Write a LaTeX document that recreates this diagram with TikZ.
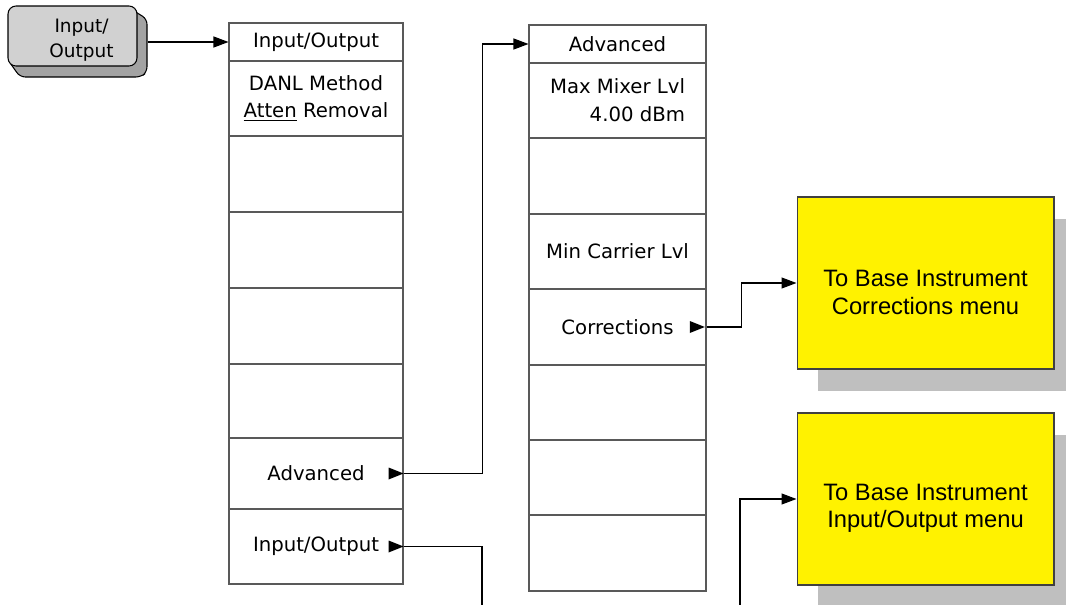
\documentclass[tikz,border=0pt]{standalone}
\usepackage{fontspec}
\newfontfamily\keyfont{DejaVu Sans}
\newfontfamily\boxfont{Liberation Sans}
\usetikzlibrary{arrows.meta}
\usetikzlibrary{shadows}

\begin{document}
\begin{tikzpicture}[x=0.02cm,y=-0.02cm,
  keybox/.style={draw=black!65, line width=0.6pt, inner sep=0pt, align=center,
    font=\keyfont\fontsize{11.2}{15.8}\selectfont},
  colone/.style={keybox, minimum width=3.48cm},
  coltwo/.style={keybox, minimum width=3.54cm},
  hardkey/.style={draw, line width=0.6pt, fill=black!18, rounded corners=0.16cm,
    minimum width=2.58cm, minimum height=1.2cm},
  tobox/.style={draw=black!75, line width=0.6pt, fill=yellow,
    minimum width=5.14cm, minimum height=3.44cm,
    drop shadow={shadow xshift=0.42cm, shadow yshift=-0.44cm, fill=black!25, opacity=1}},
  boxtext/.style={yshift=-0.19cm, align=center, font=\boxfont\fontsize{13.5}{15.5}\selectfont},
  link/.style={line width=0.6pt, -{Triangle[length=0.3cm,width=0.22cm]}}]
\useasboundingbox (0,0) rectangle (1066,605);

% front panel key
\filldraw [fill=black!36, line width=0.6pt, rounded corners=3pt]
  (126,6) -- (147,19) -- (147,72) -- (141,77) -- (20,77) -- (8,60) -- cycle;
\node [hardkey, label={[xshift=0.18cm, yshift=-0.08cm, align=center,
  font=\keyfont\fontsize{10.5}{14.2}\selectfont]center:Input/\\Output}] (hk) at (72.5,36) {};

% Input/Output menu
\node [colone, minimum height=0.76cm] (iot) at (316,42) {Input/Output};
\node [colone, minimum height=1.5cm] (danl) at (316,98.5) {DANL Method\\\underline{Atten} Removal};
\node [colone, minimum height=1.52cm] (ioa) at (316,174) {};
\node [colone, minimum height=1.52cm] (iob) at (316,250) {};
\node [colone, minimum height=1.52cm] (ioc) at (316,326) {};
\node [colone, minimum height=1.48cm] (iod) at (316,401) {};
\node [colone, minimum height=1.42cm] (adv) at (316,473.5) {Advanced};
\node [colone, minimum height=1.5cm] (io) at (316,546.5) {Input/Output};

% Advanced menu
\node [coltwo, minimum height=0.76cm] (advt) at (617.5,44) {Advanced};
\node [coltwo, minimum height=1.5cm, align=right] (maxmix) at (617.5,100.5) {Max Mixer Lvl\\4.00 dBm};
\node [coltwo, minimum height=1.52cm] (adva) at (617.5,176) {};
\node [coltwo, minimum height=1.5cm] (minc) at (617.5,251.5) {Min Carrier Lvl};
\node [coltwo, minimum height=1.52cm] (corr) at (617.5,327) {Corrections};
\node [coltwo, minimum height=1.5cm] (advb) at (617.5,402.5) {};
\node [coltwo, minimum height=1.5cm] (advc) at (617.5,477.5) {};
\node [coltwo, minimum height=1.52cm] (advd) at (617.5,553) {};

% base instrument menus
\node [tobox, label={[boxtext]center:To Base Instrument\\Corrections menu}] (box1) at (925.5,283) {};
\node [tobox, label={[boxtext]center:To Base Instrument\\Input/Output menu}] (box2) at (925.5,499) {};

% submenu marks
\fill (adv.east) -- ++(-15,-6) -- ++(0,12) -- cycle;
\fill (io.east) -- ++(-15,-6) -- ++(0,12) -- cycle;
\fill ([xshift=-1]corr.east) -- ++(-15,-6) -- ++(0,12) -- cycle;

% connectors
\draw [link] ([shift={(10,6)}]hk.east) -- (iot.west);
\draw [link] (adv.east) -- ++(79,0) |- (advt.west);
\coordinate (ioend) at (482,605);
\draw [line width=0.6pt] (io.east) -| (ioend);
\draw [link] (corr.east) -- ++(35,0) |- (box1.west);
\coordinate (boxtwoin) at (740,605);
\draw [link] (boxtwoin) |- (box2.west);
\end{tikzpicture}
\end{document}
